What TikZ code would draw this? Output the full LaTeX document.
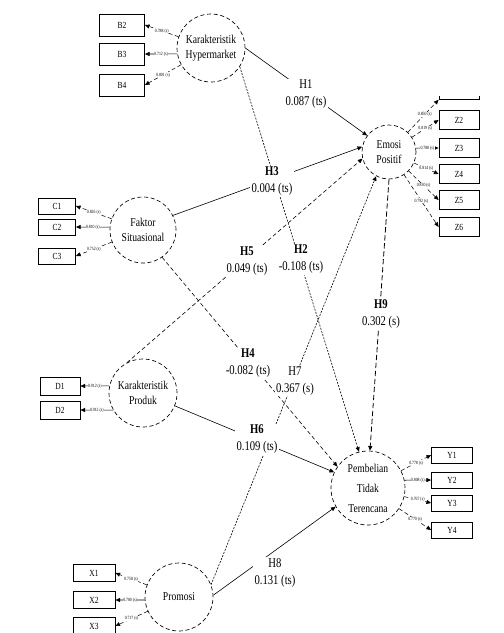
\documentclass[tikz,border=0pt]{standalone}
\usepackage{fontspec}
\setmainfont[FakeStretch=0.8]{Liberation Serif}
\usetikzlibrary{arrows.meta}
\tikzset{
  lv/.style={circle, draw, densely dashed, line width=0.5pt, inner sep=0pt, align=center, font=\fontsize{9}{11.5}\selectfont},
  ind/.style={draw, rectangle, line width=0.6pt, inner sep=0pt, minimum width=30pt, minimum height=14pt, font=\fontsize{7}{8}\selectfont},
  ld/.style={fill=white, inner sep=0.3pt, font=\fontsize{3.6}{4}\selectfont},
  hl/.style={fill=white, inner sep=1pt, align=center, font=\fontsize{10}{12.5}\selectfont},
  tip/.style={-{Triangle[length=3.5pt,width=3pt]}},
  ia/.style={tip, line width=0.4pt},
  iad/.style={tip, line width=0.4pt, densely dashed},
  sline/.style={tip, line width=0.45pt},
  dline/.style={tip, line width=0.45pt, dash pattern=on 3pt off 2pt},
  fline/.style={tip, line width=0.45pt, dash pattern=on 1.5pt off 1pt},
  hline/.style={tip, line width=0.6pt, dash pattern=on 4pt off 2pt}
}
\begin{document}
\begin{tikzpicture}[x=0.75pt, y=-0.75pt]
\useasboundingbox (0,0) rectangle (504,633);

% latent variables
\node[lv, minimum size=51pt]   (KH)  at (211,48)  {Karakteristik\\Hypermarket};
\node[lv, minimum size=40.5pt] (EP)  at (389,152) {Emosi\\Positif};
\node[lv, minimum size=49.5pt] (FS)  at (143,230) {Faktor\\Situasional};
\node[lv, minimum size=51pt]   (KP)  at (143,393) {Karakteristik\\Produk};
\node[lv, minimum size=55.5pt, font=\fontsize{9}{15}\selectfont] (PTT) at (368,488) {Pembelian\\Tidak\\Terencana};
\node[lv, minimum size=51pt]   (Pro) at (179,597) {Promosi};

% indicators
\node[ind, minimum width=33.75pt, minimum height=16.5pt] (B2) at (122,25) {B2};
\node[ind, minimum width=33.75pt, minimum height=16.5pt] (B3) at (122,54) {B3};
\node[ind, minimum width=33.75pt, minimum height=16.5pt] (B4) at (122,85) {B4};

\begin{scope}
  \clip (430,96) rectangle (490,110);
  \node[ind] (Z1) at (459,90) {Z1};
\end{scope}
\node[ind] (Z2) at (459,120) {Z2};
\node[ind] (Z3) at (459,148) {Z3};
\node[ind] (Z4) at (459,174) {Z4};
\node[ind] (Z5) at (459,200) {Z5};
\node[ind] (Z6) at (459,227) {Z6};

\node[ind, minimum width=27.75pt, minimum height=12pt] (C1) at (57,206) {C1};
\node[ind, minimum width=27.75pt, minimum height=12pt] (C2) at (57,227) {C2};
\node[ind, minimum width=27.75pt, minimum height=12pt] (C3) at (57,256) {C3};

\node[ind, minimum width=30pt, minimum height=13.5pt] (D1) at (60,386) {D1};
\node[ind, minimum width=30pt, minimum height=13.5pt] (D2) at (60,410) {D2};

\node[ind, minimum width=30.75pt, minimum height=12pt] (Y1) at (452,455) {Y1};
\node[ind, minimum width=30.75pt, minimum height=12pt] (Y2) at (452,480) {Y2};
\node[ind, minimum width=30.75pt, minimum height=12pt] (Y3) at (452,503) {Y3};
\node[ind, minimum width=30.75pt, minimum height=12pt] (Y4) at (452,530) {Y4};

\node[ind, minimum width=31.5pt, minimum height=12.75pt] (X1) at (94,573) {X1};
\node[ind, minimum width=31.5pt, minimum height=12.75pt] (X2) at (94,600) {X2};
\node[ind, minimum width=31.5pt, minimum height=12.75pt] (X3) at (94,626) {X3};

% loadings
\draw[iad] (KH) -- node[ld]{0.788 (s)} (B2.east);
\draw[ia]  (KH.190) -- node[ld]{0.712 (s)} (B3.east);
\draw[iad] (KH) -- node[ld]{0.801 (s)} (B4.east);

\draw[iad] (EP) -- node[ld, pos=0.55]{0.850 (s)} (Z1.south west);
\draw[iad] (EP) -- node[ld]{0.819 (s)} (Z2.west);
\draw[ia]  (EP.8.5) -- node[ld]{0.788 (s)} (Z3.west);
\draw[iad] (EP) -- node[ld]{0.814 (s)} (Z4.west);
\draw[iad] (EP) -- node[ld]{0.830 (s)} (Z5.west);
\draw[iad] (EP) -- node[ld]{0.792 (s)} (Z6.west);

\draw[iad] (FS) -- node[ld]{0.826 (s)} (C1.east);
\draw[ia]  (FS.175) -- node[ld]{0.810 (s)} (C2.east);
\draw[iad] (FS) -- node[ld]{0.752 (s)} (C3.east);

\draw[ia] (KP.168) -- node[ld]{0.912 (s)} (D1.east);
\draw[ia] (KP.210) -- node[ld]{0.912 (s)} (D2.east);

\draw[iad] (PTT) -- node[ld]{0.778 (s)} (Y1.west);
\draw[ia]  (PTT.12.5) -- node[ld]{0.808 (s)} (Y2.west);
\draw[iad] (PTT) -- node[ld]{0.767 (s)} (Y3.west);
\draw[iad] (PTT) -- node[ld]{0.770 (s)} (Y4.west);

\draw[iad] (Pro) -- node[ld]{0.758 (s)} (X1.east);
\draw[ia]  (Pro.185) -- node[ld]{0.780 (s)} (X2.east);
\draw[iad] (Pro) -- node[ld]{0.717 (s)} (X3.east);

% structural paths
\draw[sline] (KH.east) -- (EP.143);
\draw[sline] (FS.26) -- (EP.169);
\draw[fline] (KH.-33) -- (PTT.104);
\draw[dline] (KP.118) -- (EP.-166);
\draw[dline] (FS.-55) -- (PTT.145);
\draw[sline] (KP.-22) -- (PTT.155);
\draw[fline] (Pro.21) -- (EP.-118);
\draw[sline] (Pro.3) -- (PTT.-150);
\draw[hline] (EP.-90) -- (PTT.87);

% path labels
\node[hl] (H1) at (306,94)  {H1\\0.087 (ts)};
\node[hl] (H3) at (272,181) {\textbf{H3}\\0.004 (ts)};
\node[hl] (H5) at (247,261) {\textbf{H5}\\0.049 (ts)};
\node[hl] (H2) at (301,259) {\textbf{H2}\\-0.108 (ts)};
\node[hl] (H9) at (381,314) {\textbf{H9}\\0.302 (s)};
\node[hl] (H4) at (248,363) {\textbf{H4}\\-0.082 (ts)};
\node[hl] (H7) at (295,381) {H7\\0.367 (s)};
\node[hl] (H6) at (257,439) {\textbf{H6}\\0.109 (ts)};
\node[hl] (H8) at (275,573) {H8\\0.131 (ts)};
\end{tikzpicture}
\end{document}
